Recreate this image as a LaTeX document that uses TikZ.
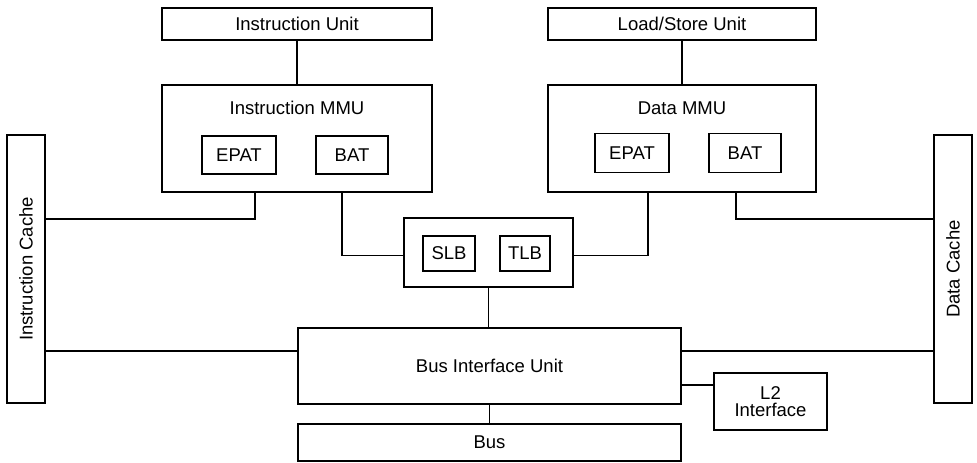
\documentclass[tikz,border=0pt]{standalone}
\usepackage{fontspec}
\setmainfont{Liberation Sans}
\begin{document}
\begin{tikzpicture}[x=1pt,y=-1pt,line width=1.2pt,
  every node/.style={font=\fontsize{18.5}{17}\selectfont},
  blk/.style={draw,rectangle,inner sep=0pt,align=center},
  wire/.style={draw,line width=1.2pt}]
\useasboundingbox (0,0) rectangle (977,463);

% execution units
\node[blk,minimum width=270pt,minimum height=32pt] (iu) at (297,24) {Instruction Unit};
\node[blk,minimum width=268pt,minimum height=32pt] (ls) at (682,24) {Load/Store Unit};

% instruction MMU
\node[blk,minimum width=270pt,minimum height=107pt] (immu) at (297,138.5) {};
\node (immut) at (297,108) {Instruction MMU};
\node[blk,minimum width=74pt,minimum height=38pt] (iepat) at (239,155) {EPAT};
\node[blk,minimum width=72pt,minimum height=38pt] (ibat) at (352,155) {BAT};

% data MMU
\node[blk,minimum width=268pt,minimum height=107pt] (dmmu) at (682,138.5) {};
\node (dmmut) at (682,108) {Data MMU};
\node[blk,minimum width=74pt,minimum height=39pt] (depat) at (632,153) {EPAT};
\node[blk,minimum width=72pt,minimum height=39pt] (dbat) at (745,153) {BAT};

% caches
\node[blk,minimum width=38pt,minimum height=268pt] (ic) at (26,269) {};
\node[rotate=90] (ict) at (26,269) {Instruction Cache};
\node[blk,minimum width=38pt,minimum height=268pt] (dc) at (953,269) {};
\node[rotate=90] (dct) at (953,269) {Data Cache};

% shared segment / translation lookaside buffers
\node[blk,minimum width=169pt,minimum height=69pt] (mmu) at (488.5,252.5) {};
\node[blk,minimum width=52pt,minimum height=35pt] (slb) at (449,253.5) {SLB};
\node[blk,minimum width=50pt,minimum height=35pt] (tlb) at (525,253.5) {TLB};

% bus interface
\node[blk,minimum width=383pt,minimum height=76pt] (biu) at (489.5,366) {Bus Interface Unit};
\node[blk,minimum width=383pt,minimum height=37pt] (bus) at (489.5,442.5) {Bus};
\node[blk,minimum width=113pt,minimum height=57pt] (l2) at (770.5,401.5) {L2\\Interface};

% connections
\draw[wire] (iu) -- (immu);
\draw[wire] (ls) -- (dmmu);
\draw[wire] ([xshift=-42pt]immu.south) |- ([yshift=50pt]ic.east);
\draw[wire] ([xshift=45pt]immu.south) |- ([yshift=-3pt]mmu.west);
\draw[wire] ([xshift=-34pt]dmmu.south) |- ([yshift=-3pt]mmu.east);
\draw[wire] ([xshift=54pt]dmmu.south) |- ([yshift=50pt]dc.west);
\draw[wire] (mmu.south) -- (mmu.south |- biu.north);
\draw[wire] ([yshift=15pt]biu.west) -- ([yshift=15pt]biu.west -| ic.east);
\draw[wire] ([yshift=15pt]biu.east) -- ([yshift=15pt]biu.east -| dc.west);
\draw[wire] ([yshift=-19pt]biu.east) -- ([yshift=-19pt]biu.east -| l2.west);
\draw[wire] (biu.south) -- (bus.north);
\end{tikzpicture}
\end{document}
